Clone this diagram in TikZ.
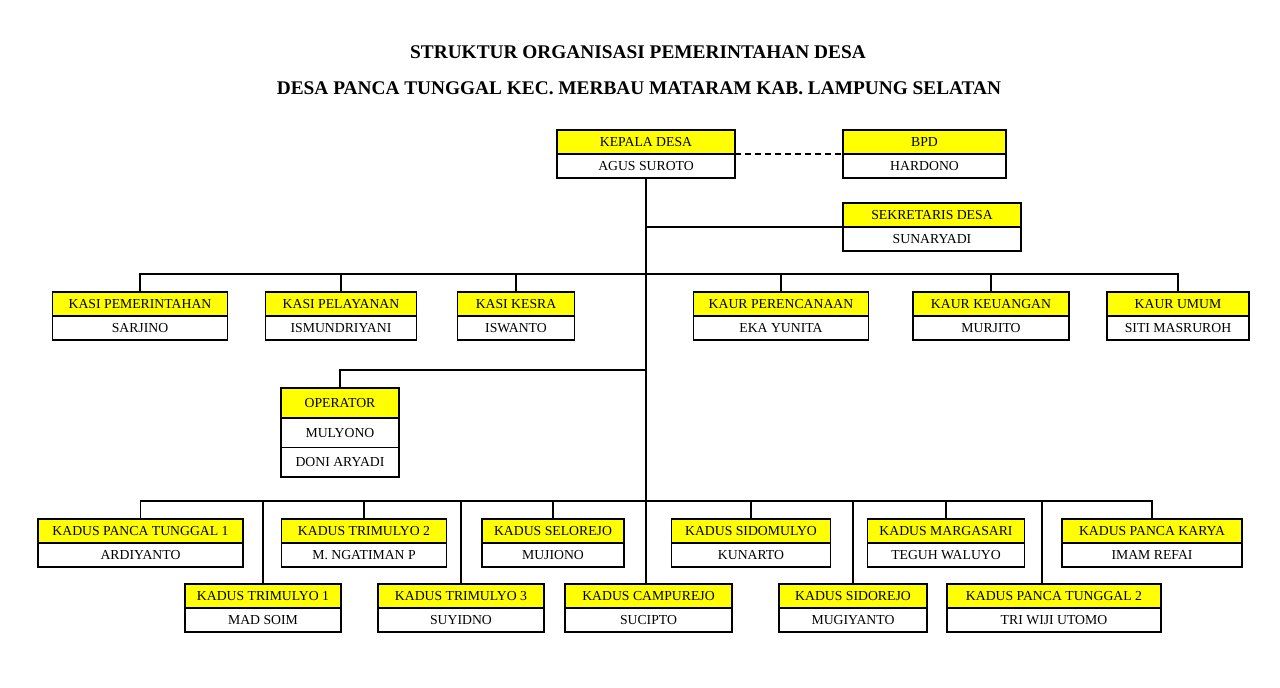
\documentclass[tikz,border=0pt]{standalone}
\usepackage{fontspec}
\setmainfont{Liberation Serif}
\definecolor{hdyellow}{RGB}{255,255,0}
\tikzset{
  boxbase/.style={draw=black, line width=1.3pt, inner sep=0pt, outer sep=0pt,
    minimum height=18pt, font=\fontsize{10.3}{12}\selectfont},
  headbox/.style={boxbase, fill=hdyellow},
  bodybox/.style={boxbase, fill=white},
  conn/.style={draw=black, line width=1.3pt},
  dashconn/.style={conn, dash pattern=on 4.5pt off 3pt},
  titletext/.style={font=\fontsize{14.5}{16}\selectfont\bfseries, inner sep=0pt}
}
\newcommand\orgbox[6]{%
  \node[headbox, minimum width=#4*0.75pt, anchor=north] (#1) at (#2,#3) {#5};
  \node[bodybox, minimum width=#4*0.75pt, anchor=north] (#1b) at (#1.south) {#6};}
\begin{document}
\begin{tikzpicture}[x=0.75pt,y=-0.75pt]
\useasboundingbox[fill=white] (0,0) rectangle (1280,687);
% titles
\node[titletext] (t1) at (638,52) {STRUKTUR ORGANISASI PEMERINTAHAN DESA};
\node[titletext] (t2) at (639,88) {DESA PANCA TUNGGAL KEC. MERBAU MATARAM KAB. LAMPUNG SELATAN};
% top
\orgbox{kepala}{646}{130}{178}{KEPALA DESA}{AGUS SUROTO}
\orgbox{bpd}{924.5}{130}{163}{BPD}{HARDONO}
\orgbox{sek}{932}{203}{178}{SEKRETARIS DESA}{SUNARYADI}
% kasi / kaur row
\orgbox{pem}{140}{292}{175}{KASI PEMERINTAHAN}{SARJINO}
\orgbox{pel}{341}{292}{151}{KASI PELAYANAN}{ISMUNDRIYANI}
\orgbox{kesra}{516}{292}{117}{KASI KESRA}{ISWANTO}
\orgbox{perenc}{781}{292}{175}{KAUR PERENCANAAN}{EKA YUNITA}
\orgbox{keu}{991}{292}{156}{KAUR KEUANGAN}{MURJITO}
\orgbox{umum}{1178}{292}{142}{KAUR UMUM}{SITI MASRUROH}
% operator
\node[headbox, minimum width=118*0.75pt, minimum height=22.3pt, anchor=north] (op) at (340,388) {OPERATOR};
\node[bodybox, minimum width=118*0.75pt, minimum height=22.3pt, anchor=north] (opb) at (op.south) {MULYONO};
\node[bodybox, minimum width=118*0.75pt, minimum height=22.3pt, anchor=north] (opc) at (opb.south) {DONI ARYADI};
% kadus upper row
\orgbox{pt1}{140.5}{519}{205}{KADUS PANCA TUNGGAL 1}{ARDIYANTO}
\orgbox{tm2}{364}{519}{165}{KADUS TRIMULYO 2}{M. NGATIMAN P}
\orgbox{selo}{553}{519}{142}{KADUS SELOREJO}{MUJIONO}
\orgbox{sidom}{751}{519}{159}{KADUS SIDOMULYO}{KUNARTO}
\orgbox{marga}{946}{519}{157}{KADUS MARGASARI}{TEGUH WALUYO}
\orgbox{pkarya}{1152}{519}{180}{KADUS PANCA KARYA}{IMAM REFAI}
% kadus lower row
\orgbox{tm1}{263}{584}{156}{KADUS TRIMULYO 1}{MAD SOIM}
\orgbox{tm3}{461}{584}{166}{KADUS TRIMULYO 3}{SUYIDNO}
\orgbox{campu}{648.5}{584}{167}{KADUS CAMPUREJO}{SUCIPTO}
\orgbox{sidor}{853}{584}{148}{KADUS SIDOREJO}{MUGIYANTO}
\orgbox{pt2}{1054}{584}{214}{KADUS PANCA TUNGGAL 2}{TRI WIJI UTOMO}
% bus coordinates
\coordinate (kasibus) at (646,274);
\coordinate (opbus) at (646,370);
\coordinate (kadusbus) at (646,501);
% connectors
\draw[dashconn] (kepala.south east) -- (bpd.south west);
\draw[conn] (kepalab.south) -- (kepalab.south |- campu.north);
\draw[conn] (kepalab.south |- sek.south west) -- (sek.south west);
\draw[conn] (pem.north) |- (kasibus) -| (umum.north);
\foreach \n in {pel,kesra,perenc,keu}{\draw[conn] (\n.north) -- (\n.north |- kasibus);}
\draw[conn] (op.north) |- (opbus);
\draw[conn] (pt1.north) |- (kadusbus) -| (pkarya.north);
\foreach \n in {tm2,selo,sidom,marga,tm1,tm3,sidor}{\draw[conn] (\n.north) -- (\n.north |- kadusbus);}
\draw[conn] ([xshift=-9pt]pt2.north) -- ([xshift=-9pt]pt2.north |- kadusbus);
\end{tikzpicture}
\end{document}
